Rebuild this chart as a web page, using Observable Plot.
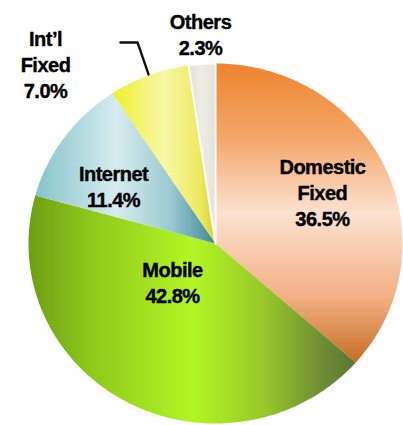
<!DOCTYPE html>
<html>
<head>
<meta charset="utf-8">
<script src="https://cdn.jsdelivr.net/npm/d3@7"></script>
<script src="https://cdn.jsdelivr.net/npm/@observablehq/plot@0.6"></script>
<style>
  html, body { margin: 0; padding: 0; background: #fff; }
  svg { display: block; }
</style>
</head>
<body>
<div id="chart"></div>
<script>
// ---- data ----
const categories = ["Domestic Fixed", "Mobile", "Internet", "Int’l Fixed", "Others"];
const shares = [36.5, 42.8, 11.4, 7.0, 2.3];
const labelTexts = ["Domestic\nFixed\n36.5%", "Mobile\n42.8%", "Internet\n11.4%", "Int’l\nFixed\n7.0%", "Others\n2.3%"];
// label anchors in unit-radius data space
const labelX = [0.572, -0.23, -0.545, -0.909, -0.08];
const labelY = [0.286, -0.214, 0.319, 0.997, 1.164];
// leader line for Int'l Fixed (unit-radius data space)
const leaderX = [-0.508, -0.417, -0.358];
const leaderY = [1.117, 1.117, 0.939];

const gradIds = ["gDom", "gMob", "gNet", "gIntl", "gOth"];

// ---- geometry ----
const total = d3.sum(shares);
let acc = 0;
const slices = shares.map((v, i) => {
  const a0 = acc / total * 2 * Math.PI;
  acc += v;
  const a1 = acc / total * 2 * Math.PI;
  const pts = [{x: 0, y: 0}];
  const n = Math.max(4, Math.ceil((a1 - a0) / (Math.PI / 180)));
  for (let k = 0; k <= n; k++) {
    const a = a0 + (a1 - a0) * k / n;
    pts.push({x: Math.sin(a), y: Math.cos(a)});
  }
  pts.push({x: 0, y: 0});
  return {name: categories[i], pts};
});
const circle = d3.range(0, 361, 2).map(d => ({x: Math.sin(d * Math.PI / 180), y: Math.cos(d * Math.PI / 180)}));
const labels = categories.map((c, i) => ({x: labelX[i], y: labelY[i], text: labelTexts[i]}));
const leader = leaderX.map((x, i) => ({x, y: leaderY[i]}));

const plot = Plot.plot({
  width: 403,
  height: 425,
  margin: 0,
  x: {domain: [-1, 1], range: [28, 402], axis: null},
  y: {domain: [-1, 1], range: [423, 63], axis: null},
  marks: [
    Plot.line(circle, {x: "x", y: "y", fill: "#000", fillOpacity: 0.45, stroke: "none", dx: 6, dy: 5, ariaLabel: "shadow"}),
    ...slices.map((s, i) => Plot.line(s.pts, {
      x: "x", y: "y",
      fill: `url(#${gradIds[i]})`,
      stroke: i === 4 ? "#fff" : "none",
      strokeWidth: 2,
      strokeLinejoin: "miter"
    })),
    Plot.line(leader, {x: "x", y: "y", stroke: "#111", strokeWidth: 2.4}),
    Plot.text(labels, {
      x: "x", y: "y", text: "text",
      fontSize: 20, fontWeight: "bold",
      fontFamily: "'Liberation Sans', Arial, sans-serif",
      lineHeight: 1.3,
      fill: "#000",
      stroke: "#000",
      strokeWidth: 0.4,
      textAnchor: "middle"
    })
  ]
});

// gradients and blur filter
const svg = d3.select(plot);
const defs = svg.insert("defs", ":first-child");
function grad(id, stops, vertical) {
  const g = defs.append("linearGradient").attr("id", id)
    .attr("x1", 0).attr("y1", 0).attr("x2", vertical ? 0 : 1).attr("y2", vertical ? 1 : 0);
  stops.forEach(([o, c]) => g.append("stop").attr("offset", o).attr("stop-color", c));
}
grad("gDom", [[0, "#EE842E"], [0.25, "#F4A66A"], [0.5, "#FCE2D0"], [0.78, "#F3B084"], [1, "#C56E24"]], true);
grad("gMob", [[0, "#6E9E12"], [0.2, "#90CA1C"], [0.5, "#B2F624"], [0.72, "#98C82A"], [0.9, "#6E8C34"], [1, "#5C7436"]], false);
grad("gNet", [[0, "#86C4CC"], [0.45, "#D6ECEE"], [0.75, "#9CCAD2"], [1, "#3E8896"]], false);
grad("gIntl", [[0, "#EEF02C"], [0.5, "#F8F8A6"], [0.85, "#EEEA60"], [1, "#D8D030"]], false);
grad("gOth", [[0, "#E2E0D6"], [0.5, "#EFEDE6"], [1, "#E4E2D8"]], false);
const f = defs.append("filter").attr("id", "blur").attr("x", "-20%").attr("y", "-20%").attr("width", "140%").attr("height", "140%");
f.append("feGaussianBlur").attr("stdDeviation", 6);
svg.selectAll('g[aria-label="shadow"]').attr("filter", "url(#blur)");
svg.selectAll('g[aria-label="text"]').style("letter-spacing", "-0.5px");

document.getElementById("chart").appendChild(plot);
</script>
</body>
</html>
